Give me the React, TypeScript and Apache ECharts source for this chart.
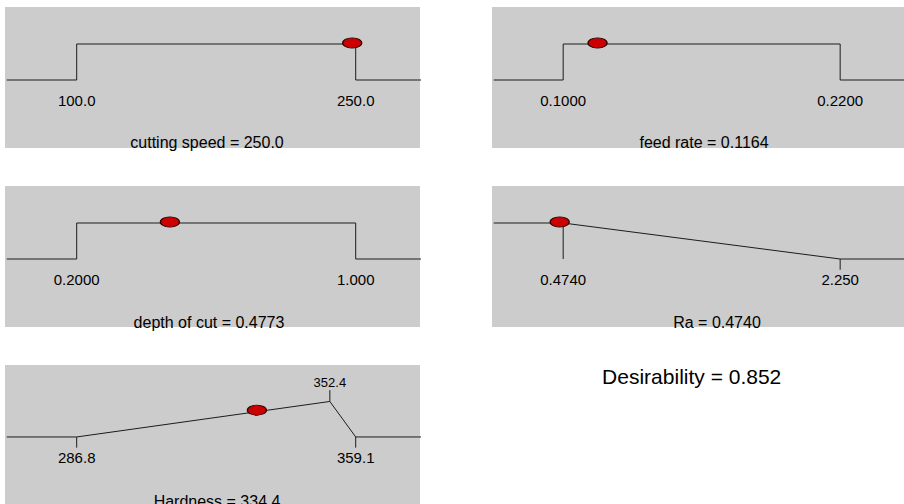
import React, { useEffect, useRef } from 'react';
import * as echarts from 'echarts';

// Factor / response names and the current optimum setting of each
const factorNames = ['cutting speed', 'feed rate', 'depth of cut', 'Ra', 'Hardness'];
const currentValues = [250.0, 0.1164, 0.4773, 0.474, 334.4];
const currentLabels = ['250.0', '0.1164', '0.4773', '0.4740', '334.4'];

// Desirability ramps: [setting, desirability]
const cuttingSpeedRamp = [[100, 0], [100, 1], [250, 1], [250, 0]];
const feedRateRamp = [[0.1, 0], [0.1, 1], [0.22, 1], [0.22, 0]];
const depthOfCutRamp = [[0.2, 0], [0.2, 1], [1.0, 1], [1.0, 0]];
const raRamp = [[0.474, 1], [2.25, 0]];
const hardnessRamp = [[286.8, 0], [352.4, 1], [359.1, 0]];

// Limit values shown under (or above) each ramp
const cuttingSpeedTicks = [100, 250];
const cuttingSpeedTickLabels = ['100.0', '250.0'];
const feedRateTicks = [0.1, 0.22];
const feedRateTickLabels = ['0.1000', '0.2200'];
const depthOfCutTicks = [0.2, 1.0];
const depthOfCutTickLabels = ['0.2000', '1.000'];
const raTicks = [0.474, 2.25];
const raTickLabels = ['0.4740', '2.250'];
const hardnessTicks = [286.8, 352.4, 359.1];
const hardnessTickLabels = ['286.8', '352.4', '359.1'];
const hardnessLabelSides = ['below', 'above', 'below'];

// Short limit marks: [setting, desirability from, desirability to]
const raMarks = [[0.474, 1, 0], [2.25, 0, -0.3]];
const hardnessMarks = [[286.8, 0, -0.3], [352.4, 1, 1.32], [359.1, 0, -0.3]];

const desirability = 0.852;

// Layout
const GRID_W = 415;
const GRID_H = 141;
const PX_LO = 71.7; // first limit, px from panel left
const PX_HI = 350.7; // last limit, px from panel left
const LINE_START = 1.7;
const LINE_END = 421;
const HIGH_PX = 37; // d = 1, px below panel top
const LOW_PX = 73; // d = 0, px below panel top
const PX_PER_D = LOW_PX - HIGH_PX;
const gridPositions = [[5, 7], [492, 7], [5, 186], [492, 186], [5, 365]];
const titleCenters = [[207, 142.6], [704, 142.6], [209, 322], [717, 322], [217, 501]];
const FONT = 'Liberation Sans, Arial, Helvetica, sans-serif';

const panels = [
  { ramp: cuttingSpeedRamp, ticks: cuttingSpeedTicks, labels: cuttingSpeedTickLabels, sides: null, marks: [] },
  { ramp: feedRateRamp, ticks: feedRateTicks, labels: feedRateTickLabels, sides: null, marks: [] },
  { ramp: depthOfCutRamp, ticks: depthOfCutTicks, labels: depthOfCutTickLabels, sides: null, marks: [] },
  { ramp: raRamp, ticks: raTicks, labels: raTickLabels, sides: null, marks: raMarks },
  { ramp: hardnessRamp, ticks: hardnessTicks, labels: hardnessTickLabels, sides: hardnessLabelSides, marks: hardnessMarks },
];

function rampAt(pts: number[][], x: number): number {
  for (let i = 0; i < pts.length - 1; i++) {
    const [x0, d0] = pts[i];
    const [x1, d1] = pts[i + 1];
    if (x >= Math.min(x0, x1) && x <= Math.max(x0, x1)) {
      if (x1 === x0) return Math.max(d0, d1);
      return d0 + ((x - x0) / (x1 - x0)) * (d1 - d0);
    }
  }
  return pts[pts.length - 1][1];
}

function buildOption() {
  const grid: any[] = [];
  const xAxis: any[] = [];
  const yAxis: any[] = [];
  const series: any[] = [];
  const graphic: any[] = [];

  panels.forEach((p, i) => {
    const [gl, gt] = gridPositions[i];
    grid.push({ left: gl, top: gt, width: GRID_W, height: GRID_H, show: true, backgroundColor: '#cccccc', borderWidth: 0 });
    const lo = p.ticks[0];
    const hi = p.ticks[p.ticks.length - 1];
    const unit = (hi - lo) / (PX_HI - PX_LO);
    xAxis.push({ type: 'value', gridIndex: i, min: lo - PX_LO * unit, max: lo + (GRID_W - PX_LO) * unit, show: false });
    yAxis.push({ type: 'value', gridIndex: i, min: -(GRID_H - LOW_PX) / PX_PER_D, max: 1 + HIGH_PX / PX_PER_D, show: false });

    const xs = lo + (LINE_START - PX_LO) * unit;
    const xe = lo + (LINE_END - PX_LO) * unit;
    const full = [[xs, p.ramp[0][1]], ...p.ramp, [xe, p.ramp[p.ramp.length - 1][1]]];

    series.push({
      type: 'line', xAxisIndex: i, yAxisIndex: i, data: full, symbol: 'none', clip: false, silent: true, z: 2,
      lineStyle: { color: '#1c1c1c', width: 1 },
    });

    if (p.marks.length) {
      series.push({
        type: 'custom', xAxisIndex: i, yAxisIndex: i, data: p.marks, silent: true, z: 2,
        renderItem: (_params: any, api: any) => {
          const a = api.coord([api.value(0), api.value(1)]);
          const b = api.coord([api.value(0), api.value(2)]);
          return { type: 'line', shape: { x1: a[0], y1: a[1], x2: b[0], y2: b[1] }, style: { stroke: '#1c1c1c', lineWidth: 1 } };
        },
      });
    }

    const labelData = p.ticks.map((t, k) => {
      const above = p.sides && p.sides[k] === 'above';
      return [t, above ? 1 : 0, above ? 1 : 0];
    });
    series.push({
      type: 'custom', xAxisIndex: i, yAxisIndex: i, data: labelData, silent: true, z: 3,
      renderItem: (params: any, api: any) => {
        const above = api.value(2) === 1;
        const c = api.coord([api.value(0), api.value(1)]);
        return {
          type: 'text', x: c[0], y: c[1] + (above ? -18.5 : 20.8),
          style: {
            text: p.labels[params.dataIndex], fill: '#000', fontFamily: FONT, fontSize: above ? 13 : 15,
            align: 'center', verticalAlign: 'middle', textAlign: 'center', textVerticalAlign: 'middle',
          },
        };
      },
    });

    const cx = currentValues[i];
    series.push({
      type: 'scatter', xAxisIndex: i, yAxisIndex: i, data: [[cx, rampAt(p.ramp, cx)]], silent: true, z: 5,
      symbol: 'circle', symbolSize: [19, 10], symbolOffset: [-3.5, -1],
      itemStyle: { color: '#cc0000', borderColor: '#2a0000', borderWidth: 1, opacity: 1 },
    });

    graphic.push({
      type: 'text', x: titleCenters[i][0], y: titleCenters[i][1], z: 10,
      style: {
        text: `${factorNames[i]} = ${currentLabels[i]}`, fill: '#000', fontFamily: FONT, fontSize: 16,
        align: 'center', verticalAlign: 'middle', textAlign: 'center', textVerticalAlign: 'middle',
      },
    });
  });

  graphic.push({
    type: 'text', x: 691.7, y: 376, z: 10,
    style: {
      text: `Desirability = ${desirability.toFixed(3)}`, fill: '#000', fontFamily: FONT, fontSize: 21,
      align: 'center', verticalAlign: 'middle', textAlign: 'center', textVerticalAlign: 'middle',
    },
  });

  return { animation: false, backgroundColor: '#ffffff', grid, xAxis, yAxis, series, graphic };
}

export default function App() {
  const ref = useRef<HTMLDivElement>(null);
  useEffect(() => {
    if (!ref.current) return;
    const chart = echarts.init(ref.current, undefined, { renderer: 'svg' });
    chart.setOption(buildOption());
    return () => chart.dispose();
  }, []);
  return <div ref={ref} style={{ position: 'fixed', left: 0, top: 0, width: 904, height: 504 }} />;
}
